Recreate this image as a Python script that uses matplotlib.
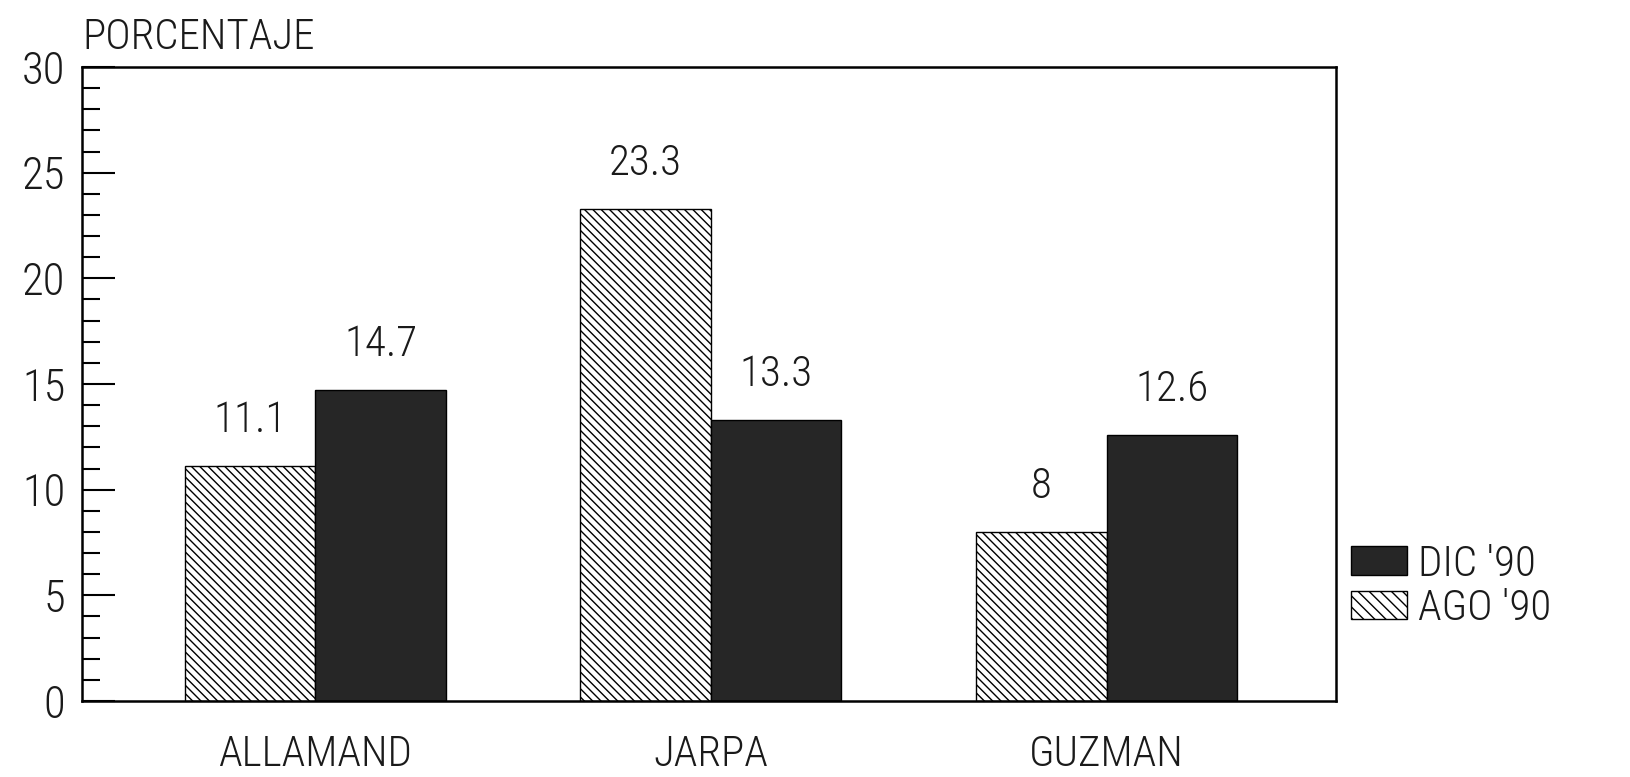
import numpy as np
import matplotlib
matplotlib.use("Agg")
import matplotlib.pyplot as plt
from matplotlib.patches import Patch
from matplotlib.ticker import MultipleLocator

plt.rcParams.update({
    "font.family": ["Roboto Condensed", "DejaVu Sans"],
    "font.weight": 300,
    "hatch.linewidth": 1.0,
    "axes.linewidth": 1.8,
})

# ---- data ----
candidates = ["ALLAMAND", "JARPA", "GUZMAN"]
ago_90 = [11.1, 23.3, 8]
dic_90 = [14.7, 13.3, 12.6]
ago_labels = ["11.1", "23.3", "8"]
dic_labels = ["14.7", "13.3", "12.6"]

COLOR_DARK = "#262626"
TXT = "#1a1a1a"
FS = 31

fig = plt.figure(figsize=(16.3, 7.77), dpi=100)
ax = fig.add_axes([0.0503, 0.0978, 0.7693, 0.816])

x = np.arange(len(candidates))
width = 0.33

b_ago = ax.bar(x - width / 2, ago_90, width, color="white", edgecolor="black",
               hatch="\\\\\\\\", linewidth=1.0)
b_dic = ax.bar(x + width / 2, dic_90, width, color=COLOR_DARK, edgecolor="black",
               linewidth=1.0)

for b, lab in zip(b_ago, ago_labels):
    ax.annotate(lab, (b.get_x() + b.get_width() / 2, b.get_height()),
                xytext=(0, 18), textcoords="offset points",
                ha="center", va="bottom", fontsize=FS, color=TXT)
for b, lab in zip(b_dic, dic_labels):
    ax.annotate(lab, (b.get_x() + b.get_width() / 2, b.get_height()),
                xytext=(0, 18), textcoords="offset points",
                ha="center", va="bottom", fontsize=FS, color=TXT)

ax.set_xlim(-0.59, 2.58)
ax.set_ylim(0, 30)
ax.set_xticks(x)
ax.set_xticklabels(candidates, fontsize=FS, color=TXT)
ax.tick_params(axis="x", length=0, pad=24)

ax.yaxis.set_major_locator(MultipleLocator(5))
ax.yaxis.set_minor_locator(MultipleLocator(1))
ax.tick_params(axis="y", which="major", direction="in", length=24, width=1.5,
               labelsize=FS + 1, labelcolor=TXT, pad=12)
ax.tick_params(axis="y", which="minor", direction="in", length=13, width=1.5)

ax.text(0.0, 1.014, "PORCENTAJE", transform=ax.transAxes, fontsize=FS,
        color=TXT, ha="left", va="bottom")

handles = [Patch(facecolor=COLOR_DARK, edgecolor="black", label="DIC '90"),
           Patch(facecolor="white", edgecolor="black", hatch="\\\\\\", label="AGO '90")]
fig.legend(handles=handles, loc="upper left", bbox_to_anchor=(0.805, 0.35),
           frameon=False, fontsize=FS, handlelength=1.3, handleheight=0.65,
           handletextpad=0.25, labelspacing=0.08, labelcolor=TXT)

fig.savefig("out.png", dpi=100)
